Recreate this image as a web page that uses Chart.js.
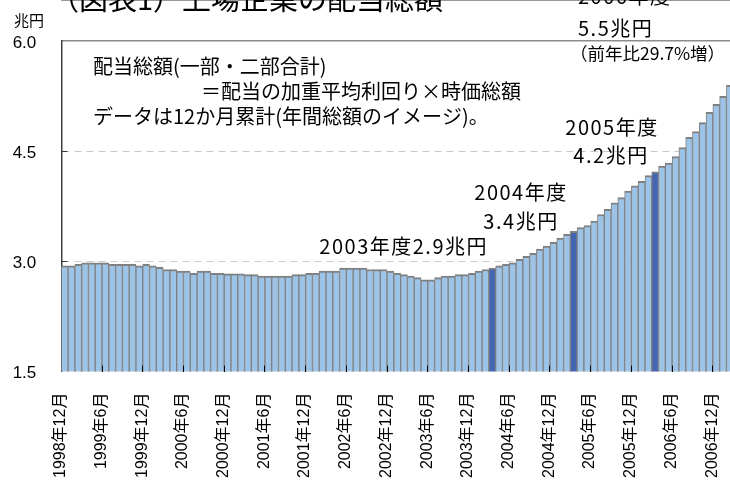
<!DOCTYPE html>
<html lang="ja">
<head>
<meta charset="utf-8">
<title>上場企業の配当総額</title>
<script src="https://cdn.jsdelivr.net/npm/chart.js@4.4.1/dist/chart.umd.min.js"></script>
<style>
  html, body { margin: 0; padding: 0; background: #fff; overflow: hidden; width: 730px; height: 488px; }
  #wrap { position: relative; width: 740px; height: 488px; }
</style>
</head>
<body>
<div id="wrap"><canvas id="dividendChart"></canvas></div>
<script>
// 月次カテゴリ（1998年12月～2007年3月）
const months = [];
for (let y = 1998, m = 12; months.length < 100; ) {
  months.push(y + '年' + m + '月');
  m++;
  if (m > 12) { m = 1; y++; }
}

// 配当総額（12か月累計、兆円）
const dividendTotal = [
  2.94, 2.94, 2.96, 2.98, 2.98, 2.98, 2.98, 2.96, 2.96, 2.96, 2.96, 2.94,
  2.96, 2.94, 2.92, 2.89, 2.89, 2.87, 2.87, 2.84, 2.87, 2.87, 2.84, 2.84,
  2.83, 2.83, 2.83, 2.82, 2.82, 2.80, 2.80, 2.80, 2.80, 2.80, 2.82, 2.82,
  2.84, 2.84, 2.87, 2.87, 2.87, 2.91, 2.91, 2.91, 2.91, 2.89, 2.89, 2.89,
  2.87, 2.84, 2.82, 2.80, 2.78, 2.75, 2.75, 2.78, 2.80, 2.80, 2.82, 2.82,
  2.84, 2.87, 2.89, 2.91, 2.94, 2.96, 2.98, 3.03, 3.07, 3.11, 3.17, 3.21,
  3.26, 3.32, 3.37, 3.41, 3.46, 3.49, 3.55, 3.64, 3.71, 3.80, 3.87, 3.96,
  4.03, 4.09, 4.17, 4.22, 4.30, 4.34, 4.43, 4.55, 4.69, 4.77, 4.89, 5.03,
  5.14, 5.25, 5.40, 5.50
];

// 年度末（3月）の棒を濃い色で表示
const fiscalYearEnds = ['2004年3月', '2005年3月', '2006年3月', '2007年3月'];

// 横軸に表示する目盛ラベル
const tickLabels = [
  '1998年12月', '1999年6月', '1999年12月', '2000年6月', '2000年12月',
  '2001年6月', '2001年12月', '2002年6月', '2002年12月', '2003年6月',
  '2003年12月', '2004年6月', '2004年12月', '2005年6月', '2005年12月',
  '2006年6月', '2006年12月'
];

// 縦軸
const yTickValues = [1.5, 3.0, 4.5, 6.0];
const dashedGridValues = [3.0, 4.5];

// 注記テキスト
const chartTexts = [
  { text: '（図表1）上場企業の配当総額', x: 50, y: 10, size: 29, baseline: 'alphabetic' },
  { text: '兆円', x: 29, y: 20, size: 15, align: 'center' },
  { text: '配当総額(一部・二部合計)', x: 93, y: 66, size: 20 },
  { text: '＝配当の加重平均利回り×時価総額', x: 201, y: 91, size: 20 },
  { text: 'データは12か月累計(年間総額のイメージ)。', x: 93, y: 116, size: 20 },
  { text: '2003年度2.9兆円', x: 488, y: 246, size: 20, align: 'right', spacing: 1.5 },
  { text: '2004年度', x: 521, y: 192, size: 20, align: 'center', spacing: 1.5 },
  { text: '3.4兆円', x: 521, y: 221, size: 20, align: 'center', spacing: 1.5 },
  { text: '2005年度', x: 612, y: 127, size: 20, align: 'center', spacing: 1.5 },
  { text: '4.2兆円', x: 611, y: 155, size: 20, align: 'center', spacing: 1.5 },
  { text: '2006年度', x: 578, y: -4, size: 20, spacing: 1.5 },
  { text: '5.5兆円', x: 578, y: 28, size: 20, spacing: 1.5 },
  { text: '（前年比29.7%増）', x: 570, y: 53, size: 17.5 }
];

const textPlugin = {
  id: 'chartTexts',
  afterDraw(chart) {
    const ctx = chart.ctx;
    ctx.save();
    ctx.fillStyle = '#000';
    chartTexts.forEach(t => {
      ctx.font = t.size + 'px "Noto Sans CJK JP", sans-serif';
      ctx.textAlign = t.align || 'left';
      ctx.textBaseline = t.baseline || 'middle';
      ctx.letterSpacing = (t.spacing || 0) + 'px';
      ctx.fillText(t.text, t.x, t.y);
    });
    ctx.restore();
  }
};

const barColors = months.map(m => fiscalYearEnds.includes(m) ? '#4466b2' : '#9dc3e6');

new Chart(document.getElementById('dividendChart'), {
  type: 'bar',
  data: {
    labels: months,
    datasets: [{
      data: dividendTotal,
      backgroundColor: barColors,
      borderColor: '#808080',
      borderWidth: { top: 2, left: 1, right: 1, bottom: 0 },
      borderSkipped: false,
      barPercentage: 1,
      categoryPercentage: 1
    }]
  },
  options: {
    responsive: true,
    maintainAspectRatio: false,
    animation: false,
    layout: { padding: { top: 37, left: 0, right: 0, bottom: 0 } },
    plugins: {
      legend: { display: false },
      tooltip: { enabled: false }
    },
    scales: {
      x: {
        position: 'bottom',
        offset: true,
        grid: {
          offset: true,
          drawOnChartArea: false,
          drawTicks: true,
          tickLength: -6,
          z: 1,
          color: c => (c.index > 0 && c.index % 6 === 0) ? '#000' : 'rgba(0,0,0,0)'
        },
        border: { display: true, color: '#333', width: 1 },
        ticks: {
          autoSkip: false,
          minRotation: 90,
          maxRotation: 90,
          padding: 27,
          labelOffset: -4,
          color: '#000',
          font: { family: '"Liberation Sans", "Noto Sans CJK JP", sans-serif', size: 16 },
          callback: (v, i) => tickLabels.includes(months[i]) ? months[i] : ''
        },
        afterFit: s => { s.height = 116.4; s.paddingLeft = 0; s.paddingRight = 0; }
      },
      xTop: {
        type: 'category',
        position: 'top',
        labels: months,
        grid: { display: false, drawTicks: false },
        border: { display: true, color: '#8c8c8c', width: 1.5 },
        ticks: { display: false }
      },
      y: {
        min: yTickValues[0],
        max: yTickValues[yTickValues.length - 1],
        afterBuildTicks: s => { s.ticks = yTickValues.map(v => ({ value: v })); },
        grid: {
          color: c => dashedGridValues.includes(c.tick && c.tick.value) ? '#c8c8c8' : 'rgba(0,0,0,0)',
          tickColor: c => dashedGridValues.includes(c.tick && c.tick.value) ? '#333' : 'rgba(0,0,0,0)',
          lineWidth: 1,
          drawTicks: true,
          tickLength: -6
        },
        border: { display: true, color: '#404040', width: 1.5, dash: [7, 5] },
        ticks: {
          padding: 31,
          labelOffset: 2,
          color: '#000',
          font: { family: '"Liberation Sans", sans-serif', size: 17 },
          callback: v => Number(v).toFixed(1)
        },
        afterFit: s => { s.width = 61.3; }
      }
    }
  },
  plugins: [textPlugin]
});
</script>
</body>
</html>
